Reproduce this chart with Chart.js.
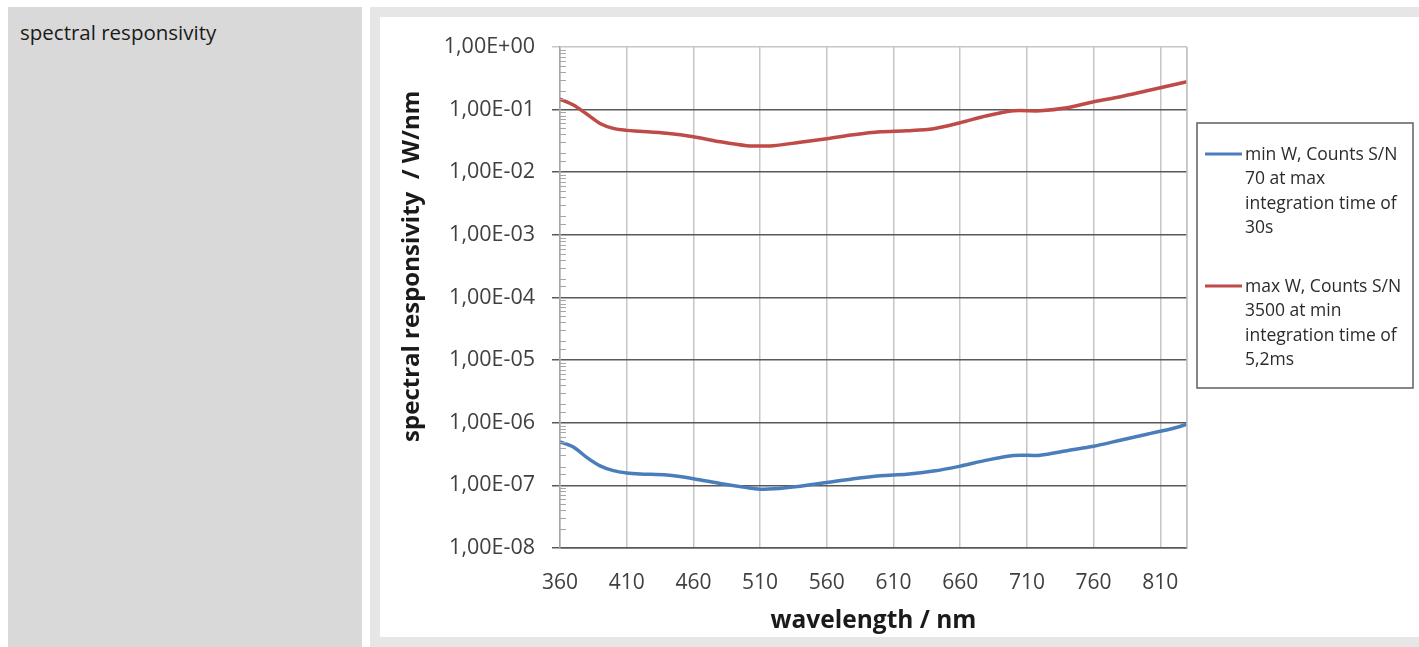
<!DOCTYPE html>
<html>
<head>
<meta charset="utf-8">
<script src="https://cdn.jsdelivr.net/npm/chart.js@4"></script>
<style>
    body { margin: 0; background: #fff; overflow: hidden; font-family: 'Open Sans', sans-serif; }
    .label-cell {
        position: absolute; left: 8px; top: 7px; width: 354px; height: 660px;
        background: #d9d9d9; box-sizing: border-box; padding: 11px 12px;
        font-size: 20.5px; color: #1a1a1a;
    }
    .chart-cell {
        position: absolute; left: 370px; top: 7px; width: 1070px; height: 640px;
        background: #e6e6e6;
    }
    .chart-box {
        position: absolute; left: 10px; top: 10px; width: 1039px; height: 620px;
        background: #fff;
    }
</style>
</head>
<body>
<div class="label-cell">spectral responsivity</div>
<div class="chart-cell">
    <div class="chart-box"><canvas id="chart-resp" width="1039" height="620"></canvas></div>
</div>
<script>
// --- Data ---
const wavelengths = [360, 370, 380, 390, 400, 410, 420, 440, 460, 480, 500, 510, 520, 540, 560,
    580, 600, 620, 640, 660, 680, 700, 720, 740, 760, 780, 800, 820, 830];

const minW = [4.94e-7, 4.1e-7, 2.8e-7, 2.05e-7, 1.72e-7, 1.58e-7, 1.52e-7, 1.46e-7, 1.28e-7, 1.07e-7,
    9.2e-8, 8.7e-8, 8.8e-8, 9.7e-8, 1.11e-7, 1.28e-7, 1.43e-7, 1.51e-7, 1.69e-7, 2.03e-7,
    2.53e-7, 3.0e-7, 3.03e-7, 3.58e-7, 4.22e-7, 5.26e-7, 6.56e-7, 8.17e-7, 9.46e-7];

const maxW = [0.147, 0.118, 0.085, 0.060, 0.050, 0.0465, 0.045, 0.0418, 0.0368, 0.0306,
    0.0264, 0.0262, 0.0264, 0.030, 0.0342, 0.0396, 0.0442, 0.0459, 0.0493, 0.0615,
    0.0795, 0.0955, 0.0955, 0.1067, 0.133, 0.160, 0.199, 0.248, 0.277];

const xTicks = [360, 410, 460, 510, 560, 610, 660, 710, 760, 810];
const xMax = 830;

const labelMin = ['min W, Counts S/N', '70 at max', 'integration time of', '30s'];
const labelMax = ['max W, Counts S/N', '3500 at min', 'integration time of', '5,2ms'];

const COLORS = {
    blue: '#4a7ebb',
    red: '#be4b48',
    major: '#595959',
    light: '#c6c6c6',
    text: '#404040',
};

const isDecade = v => Math.abs(Math.log10(v) - Math.round(Math.log10(v))) < 1e-6;

function sciLabel(v) {
    const e = Math.round(Math.log10(v));
    const sign = e < 0 ? '-' : '+';
    return '1,00E' + sign + String(Math.abs(e)).padStart(2, '0');
}

// --- small inward minor ticks on the log axis ---
const minorTicks = {
    id: 'minorTicks',
    afterDraw(chart) {
        const y = chart.scales.y;
        const ctx = chart.ctx;
        const left = chart.chartArea.left;
        ctx.save();
        ctx.strokeStyle = '#a6a6a6';
        ctx.lineWidth = 1;
        y.ticks.forEach(t => {
            if (isDecade(t.value)) return;
            const py = Math.round(y.getPixelForValue(t.value)) + 0.5;
            ctx.beginPath();
            ctx.moveTo(left, py);
            ctx.lineTo(left + 6, py);
            ctx.stroke();
        });
        ctx.restore();
    }
};

// --- boxed legend with wrapped labels, right of the plot ---
const boxLegend = {
    id: 'boxLegend',
    afterDraw(chart) {
        const ctx = chart.ctx;
        const bx = 817, by = 106, bw = 216, bh = 265;
        ctx.save();
        ctx.strokeStyle = '#5f5f5f';
        ctx.lineWidth = 1.5;
        ctx.strokeRect(bx, by, bw, bh);
        ctx.font = '17.5px "Open Sans"';
        ctx.fillStyle = '#2b2b2b';
        ctx.textBaseline = 'middle';
        const starts = [138, 270];
        chart.data.datasets.forEach((ds, i) => {
            const y0 = starts[i];
            ctx.strokeStyle = ds.borderColor;
            ctx.lineWidth = 3;
            ctx.beginPath();
            ctx.moveTo(825, y0 - 1);
            ctx.lineTo(862, y0 - 1);
            ctx.stroke();
            ds.label.forEach((line, k) => ctx.fillText(line, 865, y0 + k * 24.5));
        });
        ctx.restore();
    }
};

new Chart(document.getElementById('chart-resp'), {
    type: 'line',
    data: {
        datasets: [
            {
                label: labelMin,
                data: wavelengths.map((w, i) => ({ x: w, y: minW[i] })),
                borderColor: COLORS.blue,
                borderWidth: 3.5,
                pointRadius: 0,
                tension: 0.3,
            },
            {
                label: labelMax,
                data: wavelengths.map((w, i) => ({ x: w, y: maxW[i] })),
                borderColor: COLORS.red,
                borderWidth: 3.5,
                pointRadius: 0,
                tension: 0.3,
            }
        ]
    },
    options: {
        responsive: false,
        animation: false,
        layout: { padding: { top: 29, right: 232, left: 0, bottom: 0 } },
        plugins: { legend: { display: false }, tooltip: { enabled: false } },
        scales: {
            x: {
                type: 'linear',
                min: 360,
                max: xMax,
                afterBuildTicks: s => { s.ticks = xTicks.concat([xMax]).map(v => ({ value: v })); },
                afterFit: s => { s.height = 89; },
                ticks: {
                    autoSkip: false,
                    maxRotation: 0,
                    padding: 22,
                    color: COLORS.text,
                    font: { family: 'Open Sans', size: 21 },
                    callback: v => xTicks.includes(v) ? String(v) : '',
                },
                grid: { color: COLORS.light, lineWidth: 1.5, drawTicks: false },
                border: { color: COLORS.major, width: 1.5 },
                title: {
                    display: true,
                    text: 'wavelength / nm',
                    color: '#1a1a1a',
                    font: { family: 'Open Sans', size: 24.5, weight: 'bold' },
                    padding: { top: 0, bottom: 1 },
                },
            },
            y: {
                type: 'logarithmic',
                min: 1e-8,
                max: 1,
                afterFit: s => { s.width = 180; },
                ticks: {
                    autoSkip: false,
                    padding: 17,
                    color: COLORS.text,
                    font: { family: 'Open Sans', size: 21.5 },
                    callback: v => isDecade(v) ? sciLabel(v) : '',
                },
                grid: {
                    tickLength: 8,
                    lineWidth: 1.5,
                    color: c => {
                        const v = c.tick && c.tick.value;
                        if (!v || !isDecade(v)) return 'rgba(0,0,0,0)';
                        return Math.round(Math.log10(v)) === 0 ? COLORS.light : COLORS.major;
                    },
                },
                border: { color: '#a6a6a6', width: 1.5 },
                title: {
                    display: true,
                    text: '\u00a0'.repeat(10) + 'spectral responsivity  / W/nm',
                    color: '#1a1a1a',
                    font: { family: 'Open Sans', size: 24, weight: 'bold' },
                    padding: { top: 18, bottom: 0 },
                },
            }
        }
    },
    plugins: [minorTicks, boxLegend, {
        id: 'rightBorder',
        afterDraw(chart) {
            const a = chart.chartArea;
            const ctx = chart.ctx;
            ctx.save();
            ctx.strokeStyle = COLORS.light;
            ctx.lineWidth = 1.5;
            ctx.beginPath();
            ctx.moveTo(a.right, a.top);
            ctx.lineTo(a.right, a.bottom);
            ctx.stroke();
            ctx.restore();
        }
    }]
});
</script>
</body>
</html>
